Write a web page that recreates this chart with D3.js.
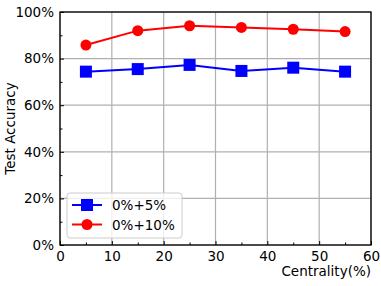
<!DOCTYPE html>
<html>
<head>
<meta charset="utf-8">
<script src="https://cdn.jsdelivr.net/npm/d3@7"></script>
<style>
  body { margin: 0; background: #fff; }
  svg { font-family: "DejaVu Sans", sans-serif; }
</style>
</head>
<body>
<svg class="main-svg" width="381" height="286"></svg>
<script>
var centrality = [5, 15, 25, 35, 45, 55];
var acc5 = [74.4, 75.5, 77.3, 74.7, 76.1, 74.4];
var acc10 = [85.8, 92.0, 94.1, 93.4, 92.6, 91.6];
var xTicks = [0, 10, 20, 30, 40, 50, 60];
var yTicks = [0, 20, 40, 60, 80, 100];
var seriesNames = ['0%+5%', '0%+10%'];

var fontSize = 13.5;
var margin = {left: 60, right: 10, top: 12, bottom: 41},
    width = 381 - margin.left - margin.right,
    height = 286 - margin.top - margin.bottom;

var svg = d3.select('.main-svg');
var g = svg.append('g').attr('transform', 'translate(' + margin.left + ',' + margin.top + ')');

var x = d3.scaleLinear().domain([0, 60]).range([0, width]);
var y = d3.scaleLinear().domain([0, 100]).range([height, 0]);

// grid
g.selectAll('.vgrid').data(xTicks).enter().append('line')
  .attr('x1', d => x(d)).attr('x2', d => x(d))
  .attr('y1', 0).attr('y2', height)
  .attr('stroke', '#b0b0b0').attr('stroke-width', 1.2);
g.selectAll('.hgrid').data(yTicks).enter().append('line')
  .attr('y1', d => y(d)).attr('y2', d => y(d))
  .attr('x1', 0).attr('x2', width)
  .attr('stroke', '#b0b0b0').attr('stroke-width', 1.2);

// axes, ticks pointing inward
var xAxis = g.append('g').attr('transform', 'translate(0,' + height + ')')
  .call(d3.axisBottom(x).tickValues(xTicks).tickSize(-4).tickPadding(6));
var xMinor = g.append('g').attr('transform', 'translate(0,' + height + ')')
  .call(d3.axisBottom(x).tickValues(d3.range(5, 60, 10)).tickSize(-2.5).tickFormat(''));
var yAxis = g.append('g')
  .call(d3.axisLeft(y).tickValues(yTicks).tickSize(-4).tickPadding(6).tickFormat(d => d + '%'));
var yMinor = g.append('g')
  .call(d3.axisLeft(y).tickValues(d3.range(10, 100, 20)).tickSize(-2.5).tickFormat(''));
[xAxis, xMinor, yAxis, yMinor].forEach(a => {
  a.select('.domain').remove();
  a.selectAll('text').attr('font-size', fontSize).attr('fill', '#000').attr('font-family', 'DejaVu Sans');
  a.selectAll('line').attr('stroke', '#000');
});

// frame
g.append('rect').attr('width', width).attr('height', height)
  .attr('fill', 'none').attr('stroke', '#000').attr('stroke-width', 1.3);

// labels
svg.append('text').attr('x', margin.left + width).attr('y', 276)
  .attr('text-anchor', 'end').attr('font-size', fontSize).text('Centrality(%)');
svg.append('text').attr('transform', 'translate(15,' + (margin.top + height / 2) + ') rotate(-90)')
  .attr('text-anchor', 'middle').attr('font-size', fontSize).text('Test Accuracy');

var line = d3.line().x((d, i) => x(centrality[i])).y(d => y(d));

g.append('path').datum(acc5).attr('d', line)
  .attr('fill', 'none').attr('stroke', '#0000ff').attr('stroke-width', 2);
g.selectAll('.sq').data(acc5).enter().append('rect')
  .attr('x', (d, i) => x(centrality[i]) - 6).attr('y', d => y(d) - 6)
  .attr('width', 12).attr('height', 12).attr('fill', '#0000ff');

g.append('path').datum(acc10).attr('d', line)
  .attr('fill', 'none').attr('stroke', '#ff0000').attr('stroke-width', 2);
g.selectAll('.dot').data(acc10).enter().append('circle')
  .attr('cx', (d, i) => x(centrality[i])).attr('cy', d => y(d))
  .attr('r', 5.5).attr('fill', '#ff0000');

// legend
var lg = svg.append('g').attr('transform', 'translate(67,193)');
lg.append('rect').attr('width', 115).attr('height', 45).attr('rx', 3)
  .attr('fill', '#fff').attr('fill-opacity', 0.8).attr('stroke', '#ccc');
seriesNames.forEach((name, i) => {
  var yy = 12 + i * 19.5;
  var col = i === 0 ? '#0000ff' : '#ff0000';
  lg.append('line').attr('x1', 5).attr('x2', 35).attr('y1', yy).attr('y2', yy)
    .attr('stroke', col).attr('stroke-width', 2);
  if (i === 0) {
    lg.append('rect').attr('x', 14).attr('y', yy - 6).attr('width', 12).attr('height', 12).attr('fill', col);
  } else {
    lg.append('circle').attr('cx', 20).attr('cy', yy).attr('r', 5.5).attr('fill', col);
  }
  lg.append('text').attr('x', 45).attr('y', yy + 5).attr('font-size', fontSize).text(name);
});
</script>
</body>
</html>
